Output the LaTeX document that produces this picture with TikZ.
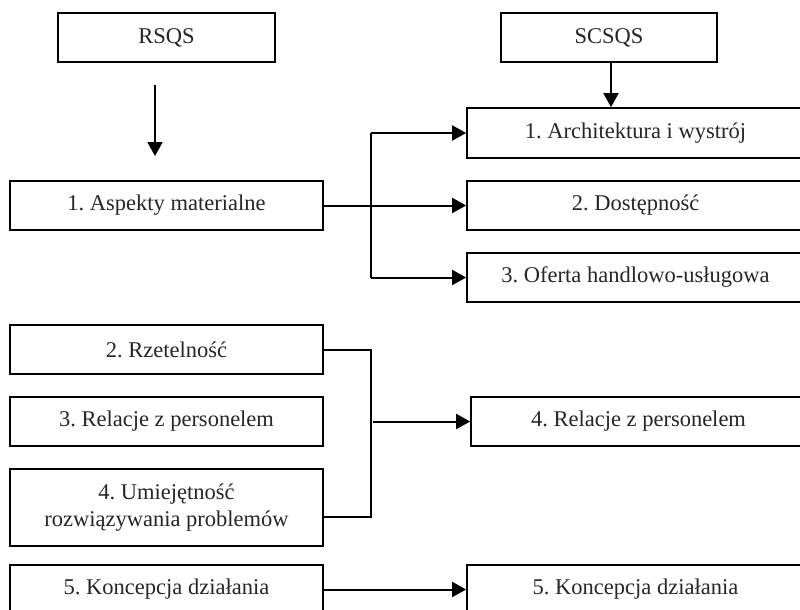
\documentclass[tikz,border=0pt]{standalone}
\usepackage{fontspec}
\setmainfont{Liberation Serif}
\usetikzlibrary{arrows.meta}
\begin{document}
\frenchspacing
\begin{tikzpicture}[x=1pt,y=-1pt,
  box/.style={draw=black, line width=1.7pt, fill=white, inner sep=0pt, minimum height=49pt, align=center,
    font=\fontsize{22.5}{27}\selectfont, text=black!85},
  conn/.style={line width=2pt, draw=black},
  arr/.style={conn, -{Triangle[length=14pt,width=15pt]}}]
\useasboundingbox (0,0) rectangle (800,610);
\clip (0,0) rectangle (800,610);
\fill[white] (0,0) rectangle (800,610);
% left column
\node[box, minimum width=217pt] (rsqs) at (166.5,37.5) {RSQS};
\node[box, minimum width=313pt] (asp) at (166.5,205.5) {1. Aspekty materialne};
\node[box, minimum width=313pt] (rzet) at (166.5,349.5) {2. Rzetelność};
\node[box, minimum width=313pt] (rel3) at (166.5,421.5) {3. Relacje z personelem};
\node[box, minimum width=313pt, minimum height=77pt] (umie) at (166.5,507.5) {4. Umiejętność\\rozwiązywania problemów};
\node[box, minimum width=313pt] (kon5l) at (166.5,589.5) {5. Koncepcja działania};
% right column
\node[box, minimum width=216pt] (scsqs) at (609,37.5) {SCSQS};
\node[box, minimum width=337pt, minimum height=50pt] (arch) at (635.5,133) {1. Architektura i wystrój};
\node[box, minimum width=337pt] (dost) at (635.5,205.5) {2. Dostępność};
\node[box, minimum width=337pt] (ofer) at (635.5,277.5) {3. Oferta handlowo-usługowa};
\node[box, minimum width=335pt] (rel4) at (638.5,421.5) {4. Relacje z personelem};
\node[box, minimum width=337pt] (kon5r) at (635.5,589.5) {5. Koncepcja działania};
% connectors
\coordinate (a1) at (155,85);
\coordinate (a2) at (155,156);
\draw[arr] (a1) -- (a2);
\draw[arr] ([xshift=2pt]scsqs.south) -- ([xshift=2pt]scsqs.south |- arch.north);
\coordinate (j1) at (371,205.5);
\draw[arr] (asp.east) -- (dost.west);
\draw[conn] (j1 |- arch.west) -- (j1 |- ofer.west);
\draw[arr] (j1 |- arch.west) -- (arch.west);
\draw[arr] (j1 |- ofer.west) -- (ofer.west);
\coordinate (ul) at (371,517);
\draw[conn] (rzet.east) -| (ul) -- (ul -| umie.east);
\draw[arr] ([xshift=2pt]ul |- rel4.west) -- (rel4.west);
\draw[arr] (kon5l.east) -- (kon5r.west);
\end{tikzpicture}
\end{document}
